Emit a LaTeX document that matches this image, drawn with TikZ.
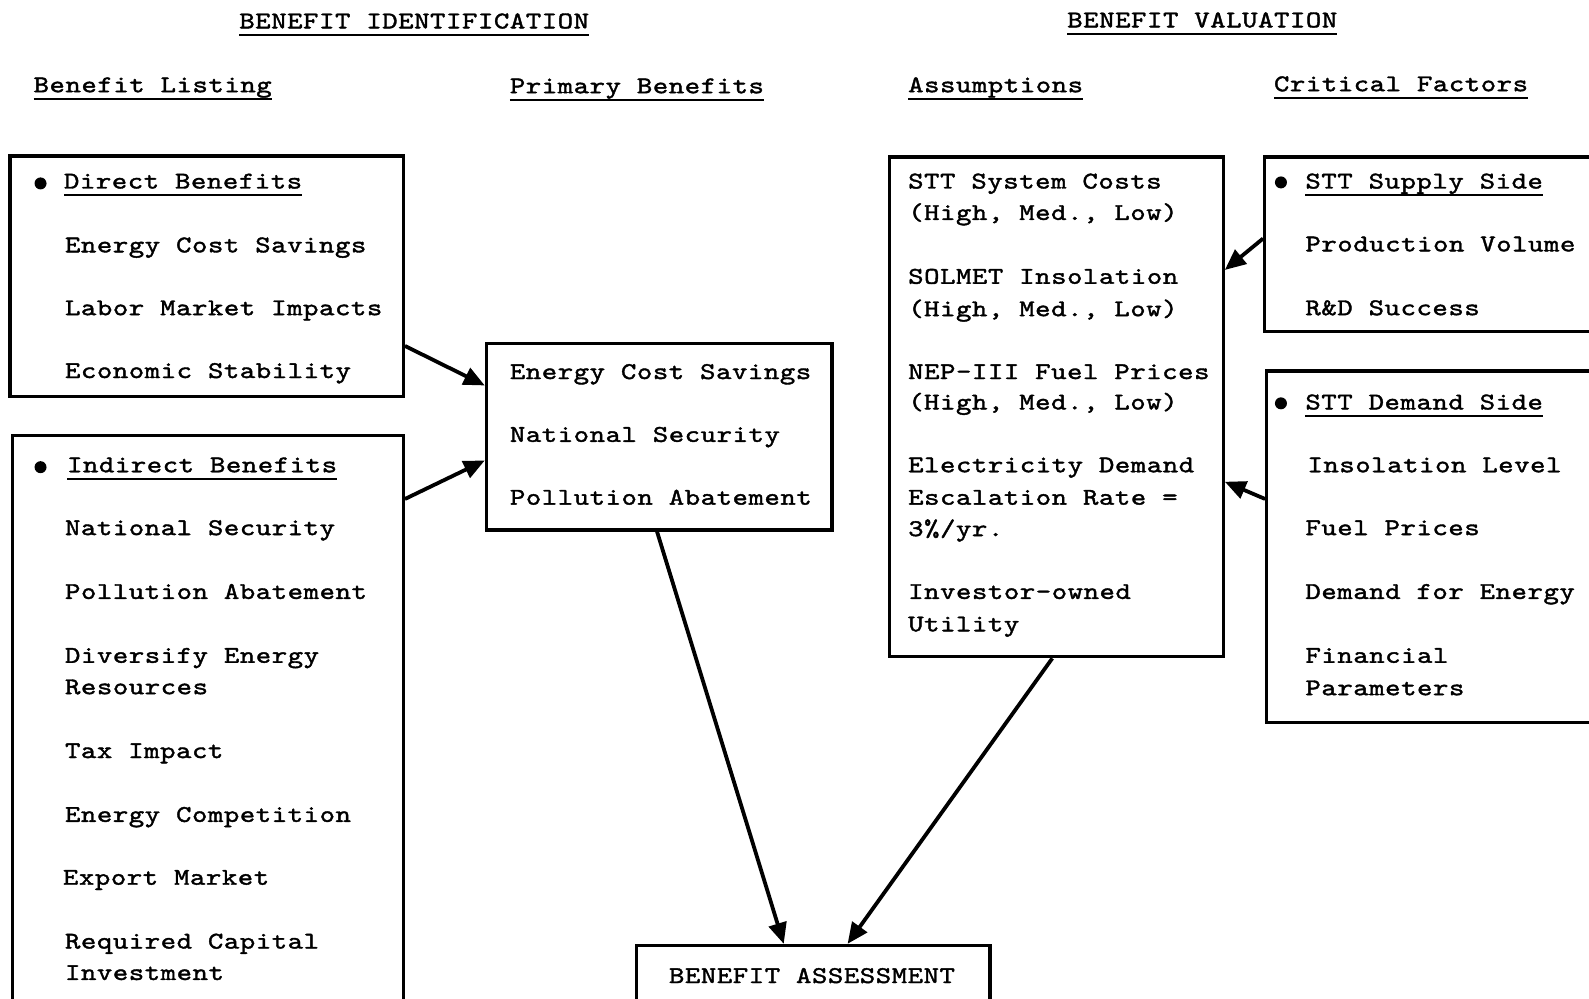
\documentclass[tikz,border=0pt]{standalone}
\usepackage{fontspec}
\newfontfamily\tw{lmmono10-regular.otf}[FakeStretch=1.22,LetterSpace=2.4,FakeBold=1.6]
\usetikzlibrary{arrows.meta,fit,calc}
\newcommand\myul[1]{\setbox0\hbox{#1}\rlap{\vrule width\wd0 height -6pt depth 8pt}\box0}
\tikzset{
  box/.style={draw, line width=3.3pt, inner sep=0pt, rectangle},
  txt/.style={anchor=base west, inner sep=0pt, font=\tw\fontsize{24pt}{28pt}\selectfont},
  dot/.style={circle, fill, inner sep=0pt, minimum size=12pt},
  arr/.style={line width=3.8pt, -{Triangle[length=21pt,width=18pt]}}
}
\begin{document}
\begin{tikzpicture}[x=1.0134pt,y=-1.0134pt]
\useasboundingbox (0,0) rectangle (1568,985);
\clip (0,0) rectangle (1568,985);
% boxes
\node[box, fit={(10,154) (398,391)}] (direct) {};
\node[box, fit={(12,430) (398,1010)}] (indirect) {};
\node[box, fit={(480,339) (821,523)}] (primary) {};
\node[box, fit={(878,155) (1207,648)}] (assump) {};
\node[box, fit={(1248,155) (1600,327)}] (supply) {};
\node[box, fit={(1250,366) (1600,713)}] (demand) {};
\node[box, fit={(628,933) (977,1010)}] (assess) {};
% headers
\node[txt] (h1) at (236,28) {\myul{BENEFIT IDENTIFICATION}};
\node[txt] (h2) at (1053,27) {\myul{BENEFIT VALUATION}};
\node[txt] (h3) at (33,91) {\myul{Benefit Listing}};
\node[txt] (h4) at (503,92) {\myul{Primary Benefits}};
\node[txt] (h5) at (896,91) {\myul{Assumptions}};
\node[txt] (h6) at (1257,90) {\myul{Critical Factors}};
% direct
\node[dot] (d0) at (40,181) {};
\node[txt] (d1) at (63,186) {\myul{Direct Benefits}};
\node[txt] (d2) at (64,249) {Energy Cost Savings};
\node[txt] (d3) at (64,311) {Labor Market Impacts};
\node[txt] (d4) at (64,373) {Economic Stability};
% indirect
\node[dot] (i0) at (40,461) {};
\node[txt] (i1) at (66,466) {\myul{Indirect Benefits}};
\node[txt] (i2) at (64,528) {National Security};
\node[txt] (i3) at (64,591) {Pollution Abatement};
\node[txt] (i4) at (64,654) {Diversify Energy};
\node[txt] (i5) at (64,685) {Resources};
\node[txt] (i6) at (64,748) {Tax Impact};
\node[txt] (i7) at (64,811) {Energy Competition};
\node[txt] (i8) at (62,873) {Export Market};
\node[txt] (i9) at (64,936) {Required Capital};
\node[txt] (i10) at (64,967) {Investment};
% primary
\node[txt] (p1) at (503,374) {Energy Cost Savings};
\node[txt] (p2) at (503,436) {National Security};
\node[txt] (p3) at (503,498) {Pollution Abatement};
% assumptions
\node[txt] (a1) at (896,186) {STT System Costs};
\node[txt] (a2) at (896,217) {(High, Med., Low)};
\node[txt] (a3) at (896,280) {SOLMET Insolation};
\node[txt] (a4) at (896,312) {(High, Med., Low)};
\node[txt] (a5) at (896,374) {NEP-III Fuel Prices};
\node[txt] (a6) at (896,404) {(High, Med., Low)};
\node[txt] (a7) at (896,466) {Electricity Demand};
\node[txt] (a8) at (896,498) {Escalation Rate =};
\node[txt] (a9) at (896,529) {3\%/yr.};
\node[txt] (a10) at (896,591) {Investor-owned};
\node[txt] (a11) at (896,623) {Utility};
% supply
\node[dot] (s0) at (1264,180) {};
\node[txt] (s1) at (1288,186) {\myul{STT Supply Side}};
\node[txt] (s2) at (1288,248) {Production Volume};
\node[txt] (s3) at (1288,311) {R\&D Success};
% demand
\node[dot] (m0) at (1264,398) {};
\node[txt] (m1) at (1288,404) {\myul{STT Demand Side}};
\node[txt] (m2) at (1290,466) {Insolation Level};
\node[txt] (m3) at (1288,528) {Fuel Prices};
\node[txt] (m4) at (1288,591) {Demand for Energy};
\node[txt] (m5) at (1288,654) {Financial};
\node[txt] (m6) at (1288,686) {Parameters};
% assessment
\node[txt] (ba) at (660,970) {BENEFIT ASSESSMENT};
% arrows
\draw[arr] ($(direct.north east)+(0,189)$) -- ($(primary.north west)+(0,43)$);
\draw[arr] ($(indirect.north east)+(0,64)$) -- ($(primary.north west)+(0,117)$);
\draw[arr] ($(primary.south west)+(170,0)$) -- ($(assess.north west)+(147,0)$);
\draw[arr] ($(assump.south west)+(162,0)$) -- ($(assess.north west)+(210,0)$);
\draw[arr] ($(supply.north west)+(0,82)$) -- ($(assump.north east)+(0,113)$);
\draw[arr] ($(demand.north west)+(0,128)$) -- ($(assump.north east)+(0,322)$);
\end{tikzpicture}
\end{document}
